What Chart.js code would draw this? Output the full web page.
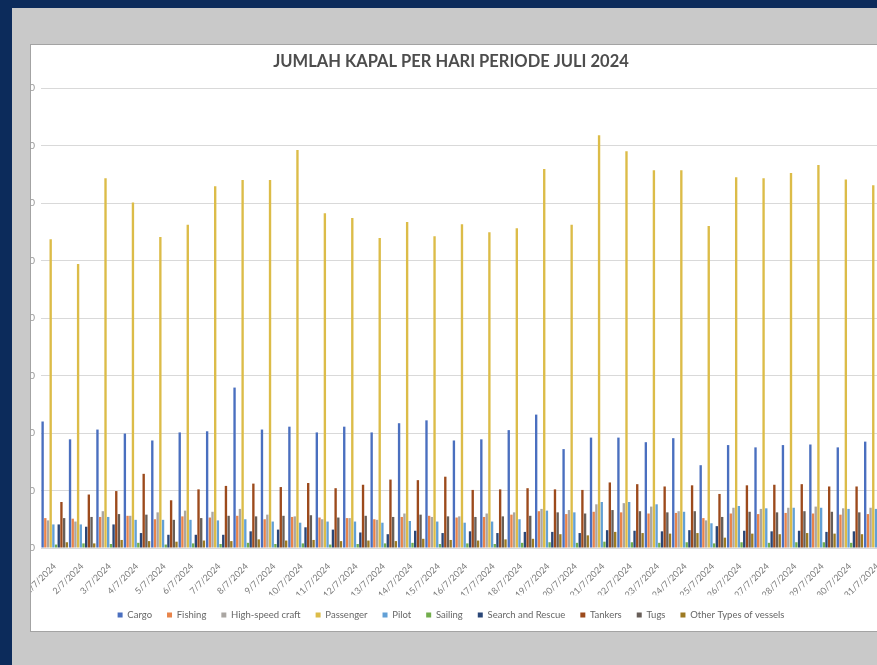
<!DOCTYPE html>
<html><head><meta charset="utf-8">
<script src="https://cdn.jsdelivr.net/npm/chart.js@4.4.1/dist/chart.umd.min.js"></script>
<style>
html,body{margin:0;padding:0;width:877px;height:665px;overflow:hidden;background:#0c2b5b;}
#panel{position:absolute;left:12px;top:8px;width:880px;height:670px;background:#c9c9c9;}
#box{position:absolute;left:30px;top:44px;width:860px;height:586px;background:#fff;border:1px solid #a3a3a3;overflow:hidden;}
#c{position:absolute;left:-20px;top:-1px;}
</style></head>
<body>
<div id="panel"></div>
<div id="box"><canvas id="c" width="880" height="588"></canvas></div>
<script>
const title = 'JUMLAH KAPAL PER HARI PERIODE JULI 2024';
const dates = ['1/7/2024','2/7/2024','3/7/2024','4/7/2024','5/7/2024','6/7/2024','7/7/2024','8/7/2024','9/7/2024','10/7/2024','11/7/2024','12/7/2024','13/7/2024','14/7/2024','15/7/2024','16/7/2024','17/7/2024','18/7/2024','19/7/2024','20/7/2024','21/7/2024','22/7/2024','23/7/2024','24/7/2024','25/7/2024','26/7/2024','27/7/2024','28/7/2024','29/7/2024','30/7/2024','31/7/2024'];
const yTicks = [0,10,20,30,40,50,60,70,80];
const cargo     = [22.0,18.9,20.6,19.9,18.7,20.1,20.3,27.9,20.6,21.1,20.1,21.1,20.1,21.7,22.2,18.7,18.9,20.5,23.2,17.2,19.2,19.2,18.4,19.1,14.4,17.9,17.5,17.9,18.0,17.5,18.5];
const fishing   = [5.2,5.1,5.4,5.6,5.0,5.5,5.3,5.6,5.0,5.4,5.3,5.2,5.0,5.4,5.6,5.3,5.4,5.8,6.4,5.9,6.3,6.2,6.0,6.1,5.2,6.0,5.9,6.1,6.0,5.8,5.9];
const highSpeed = [4.8,4.6,6.4,5.6,6.2,6.5,6.3,6.8,5.8,5.5,5.0,5.2,4.9,6.0,5.4,5.5,6.0,6.2,6.8,6.6,7.6,7.8,7.2,6.4,4.8,7.0,6.8,7.0,7.2,6.9,7.0];
const passenger = [53.7,49.4,64.3,60.1,54.1,56.2,62.9,64.0,64.0,69.2,58.2,57.4,53.9,56.7,54.2,56.3,54.9,55.6,65.9,56.2,71.8,69.0,65.7,65.7,56.0,64.5,64.3,65.2,66.6,64.1,63.1];
const pilot     = [4.1,4.1,5.4,4.9,4.9,4.9,4.8,5.0,4.6,4.4,4.6,4.6,4.4,4.7,4.6,4.4,4.6,5.0,6.5,6.2,8.0,8.0,7.6,6.3,4.3,7.3,6.9,7.0,7.0,6.8,6.8];
const sailing   = [0.6,0.8,0.7,0.9,0.6,0.8,0.7,0.9,0.7,0.8,0.6,0.7,0.8,0.9,0.7,0.8,0.7,0.9,1.0,0.9,1.1,1.0,0.9,1.0,0.8,1.0,0.9,1.0,1.0,0.9,1.0];
const sar       = [4.1,3.7,4.1,2.6,2.3,2.3,2.3,2.9,3.2,3.6,3.2,2.7,2.4,3.0,2.6,2.9,2.6,2.8,2.8,2.6,3.1,3.0,2.9,3.1,3.8,3.0,2.9,3.0,2.8,2.9,3.0];
const tankers   = [8.0,9.3,9.9,12.9,8.3,10.2,10.8,11.2,10.6,11.3,10.4,11.0,11.9,11.8,12.4,10.1,10.2,10.4,10.2,10.1,11.4,11.1,10.7,10.9,9.4,10.9,11.0,11.1,10.7,10.7,11.0];
const tugs      = [5.2,5.4,5.9,5.8,4.9,5.2,5.6,5.5,5.6,5.7,5.3,5.6,5.4,5.8,5.5,5.4,5.5,5.6,6.2,6.0,6.6,6.4,6.2,6.4,5.4,6.3,6.2,6.4,6.3,6.2,6.3];
const other     = [1.0,0.8,1.4,1.2,1.1,1.3,1.2,1.5,1.3,1.4,1.2,1.3,1.2,1.6,1.4,1.3,1.5,1.6,2.4,2.2,2.8,2.6,2.5,2.6,1.8,2.5,2.4,2.6,2.5,2.4,2.5];

const seriesNames = ['Cargo','Fishing','High-speed craft','Passenger','Pilot','Sailing','Search and Rescue','Tankers','Tugs','Other Types of vessels'];
const seriesData = [cargo,fishing,highSpeed,passenger,pilot,sailing,sar,tankers,tugs,other];
const colors = ['#4a6fbf','#e8844a','#aaa6a2','#dcbc48','#62a0d6','#72ad4c','#2a4677','#9c4a1c','#675e58','#9d7a22'];

Chart.defaults.font.family = 'Lato, "Open Sans", sans-serif';
Chart.defaults.animation = false;

new Chart(document.getElementById('c'), {
  type: 'bar',
  data: {
    labels: dates,
    datasets: seriesNames.map((n,i)=>({label:n,data:seriesData[i],backgroundColor:colors[i],borderWidth:0,categoryPercentage:0.98,barPercentage:0.88}))
  },
  options: {
    responsive:false,
    devicePixelRatio:1,
    layout:{padding:{left:0,right:0,top:0,bottom:2.25}},
    plugins:{
      title:{display:true,text:title,color:'#4d4d4d',font:{size:16.5,weight:'bold'},padding:{top:8,bottom:16.2}},
      legend:{position:'bottom',labels:{boxWidth:5,boxHeight:5,padding:15,color:'#666666',font:{size:9.5}}},
      tooltip:{enabled:false}
    },
    scales:{
      x:{
        grid:{display:false},
        border:{color:'#d9d9d9'},
        ticks:{autoSkip:false,minRotation:45,maxRotation:45,color:'#7a7a7a',font:{size:9},padding:5},
        afterFit(s){s.height=47.25;s.paddingLeft=0;s.paddingRight=0;}
      },
      y:{
        min:0,max:80,
        afterBuildTicks(s){s.ticks=yTicks.map(v=>({value:v}));},
        grid:{color:'#d9d9d9',drawTicks:false},
        border:{display:false},
        ticks:{color:'#9a9a9a',font:{size:10},padding:6},
        afterFit(s){s.width=30;}
      }
    }
  }
});
</script>
</body></html>
